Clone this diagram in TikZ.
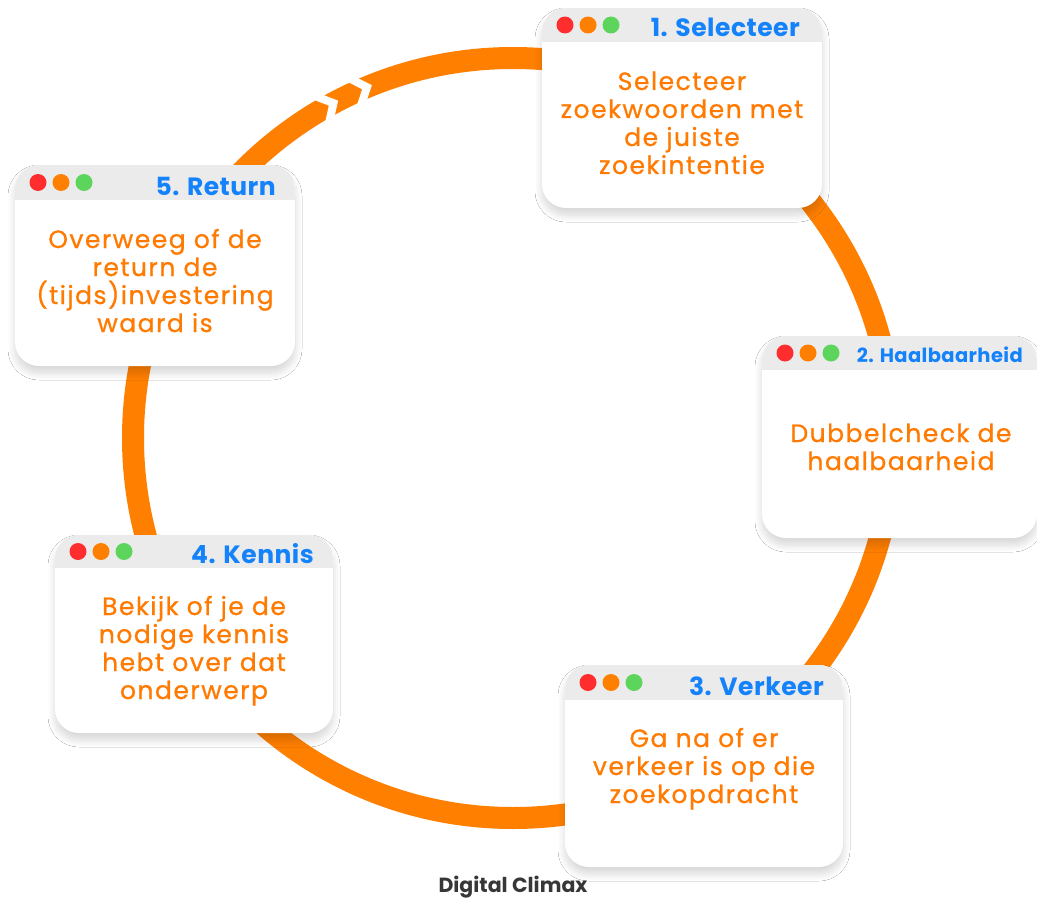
\documentclass[tikz,border=0pt]{standalone}
\usepackage{fontspec}
\setmainfont{Poppins}
\newfontfamily\bodyfont[LetterSpace=6, FakeBold=0.8]{Poppins}
\newfontfamily\ttlfont[LetterSpace=2]{Poppins}
\usetikzlibrary{shadows.blur}
\definecolor{ringor}{RGB}{255,127,0}
\definecolor{txtor}{RGB}{255,122,0}
\definecolor{ttlblue}{RGB}{20,130,250}
\definecolor{hdrgray}{RGB}{235,235,235}
\definecolor{dotred}{RGB}{255,45,45}
\definecolor{dotor}{RGB}{255,127,0}
\definecolor{dotgreen}{RGB}{93,213,93}
\definecolor{footgray}{RGB}{55,55,55}
\tikzset{
  win/.style={fill=white, draw=none, rectangle, rounded corners=24pt, inner sep=0pt,
    blur shadow={shadow xshift=0pt, shadow yshift=-7pt, shadow blur radius=7pt, shadow blur steps=12, shadow opacity=16}},
  hdr/.style={fill=hdrgray},
  wdot/.style={circle, inner sep=0pt, minimum size=17pt, draw=none},
  ttl/.style={anchor=base east, inner sep=0pt, text=ttlblue, font=\ttlfont\bfseries\fontsize{25}{28}\selectfont},
  ttlsmall/.style={ttl, font=\ttlfont\bfseries\fontsize{19.5}{24}\selectfont},
  bodytxt/.style={anchor=base, inner sep=0pt, text=txtor},
  gapcut/.style={draw=white, line width=8pt, line join=miter},
}
\newcommand\bodytext[1]{\parbox[t]{270pt}{\centering\bodyfont\fontsize{25}{28}\selectfont #1}}
\newcommand\winframe[6]{%
  \node[win, minimum width={(#4-#2)*1pt}, minimum height={(#5-#3)*1pt}] (#1) at ({(#2+#4)/2},{(#3+#5)/2}) {};
  \begin{scope}
    \clip[rounded corners=24pt] (#2,#3) rectangle (#4,#5);
    \fill[hdr] (#2,#3) rectangle (#4,#6);
  \end{scope}
  \node[wdot, fill=dotred]   (#1r) at ({#2+23},{(#3+#6)/2}) {};
  \node[wdot, fill=dotor]    (#1o) at ({#2+46},{(#3+#6)/2}) {};
  \node[wdot, fill=dotgreen] (#1g) at ({#2+69},{(#3+#6)/2}) {};
}
\begin{document}
\begin{tikzpicture}[x=1pt, y=-1pt]
\useasboundingbox (0,0) rectangle (1037,899);
\fill[white] (0,0) rectangle (1037,899);
% ring
\coordinate (C) at (513,438);
\draw[ringor, line width=22pt] (C) circle[radius=380];
% chevron cuts
\foreach \a in {28.2,22.6}{
  \draw[gapcut, rotate around={\a:(C)}] (495,37) -- (513,58) -- (495,79);
}
% windows
\winframe{b1}{542}{8}{822}{208}{42}
\winframe{b2}{762}{336}{1037}{538}{370}
\winframe{b3}{565}{665}{843}{867}{700}
\winframe{b4}{55}{535}{333}{733}{568}
\winframe{b5}{15}{165}{295}{366}{200}
% titles
\node[ttl] (t1) at (800,37) {1. Selecteer};
\node[ttlsmall] (t2) at (1023,362) {2. Haalbaarheid};
\node[ttl] (t3) at (824,695) {3. Verkeer};
\node[ttl] (t4) at (314,563) {4. Kennis};
\node[ttl] (t5) at (276,195) {5. Return};
% bodies
\node[bodytxt] (x1) at (682,90) {\bodytext{Selecteer\\zoekwoorden met\\de juiste\\zoekintentie}};
\node[bodytxt] (x2) at (901,442) {\bodytext{Dubbelcheck de\\haalbaarheid}};
\node[bodytxt] (x3) at (704,747) {\bodytext{Ga na of er\\verkeer is op die\\zoekopdracht}};
\node[bodytxt] (x4) at (194,615) {\bodytext{Bekijk of je de\\nodige kennis\\hebt over dat\\onderwerp}};
\node[bodytxt] (x5) at (155,248) {\bodytext{Overweeg of de\\return de\\(tijds)investering\\waard is}};
% footer
\node[anchor=base, inner sep=0pt, text=footgray, font=\bfseries\fontsize{20.5}{22}\selectfont] (foot) at (513,892) {Digital Climax};
\end{tikzpicture}
\end{document}
